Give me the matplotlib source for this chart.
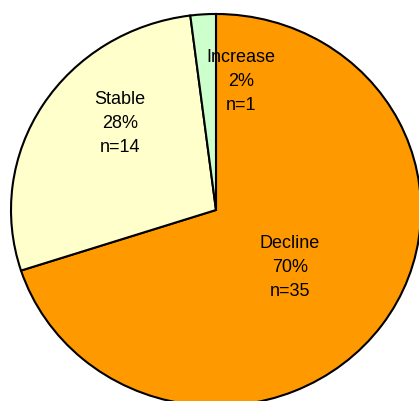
import matplotlib
matplotlib.use("Agg")
import matplotlib.pyplot as plt

categories = ["Decline", "Stable", "Increase"]
counts = [35, 14, 1]
colors = ["#FF9900", "#FFFFCC", "#CCFFCC"]
label_pos = [(0.361, -0.292), (-0.468, 0.443), (0.122, 0.657)]

plt.rcParams['font.family'] = ['Liberation Sans', 'DejaVu Sans']

fig = plt.figure(figsize=(4.19, 4.01), dpi=100)
ax = fig.add_axes([0.02625, -0.01247, 0.9785, 0.9776])
wedges, _ = ax.pie(counts, colors=colors, startangle=90, counterclock=False,
                   wedgeprops=dict(edgecolor="black", linewidth=1.5))
ax.set_aspect('auto')
ax.set_xlim(-1, 1)
ax.set_ylim(-1, 1)
ax.axis('off')

total = sum(counts)
for name, n, (x, y) in zip(categories, counts, label_pos):
    ax.text(x, y, f"{name}\n{round(100 * n / total)}%\nn={n}", ha='center', va='center',
            fontsize=13, color="black", linespacing=1.55)

fig.savefig("out.png", dpi=100, facecolor='white')
